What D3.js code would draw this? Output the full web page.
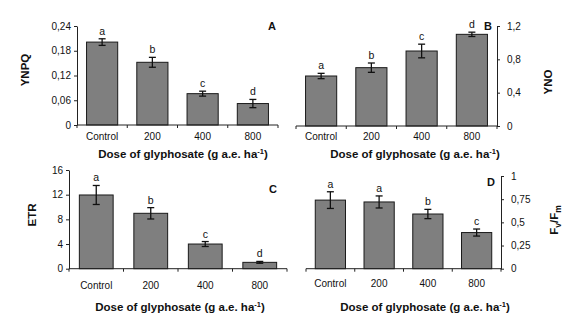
<!DOCTYPE html>
<html lang="en">
<head>
<meta charset="UTF-8">
<script src="https://d3js.org/d3.v7.min.js"></script>
<title>Glyphosate panels</title>
<style>
  body { margin: 0; background: #fff; }
  text { font-family: "Liberation Sans", Arial, sans-serif; fill: #111; }
  .ttl { font-family: "Liberation Sans Narrow", "Arial Narrow", "Liberation Sans", sans-serif; font-weight: bold; font-size: 11.5px; }
  .tick text { font-size: 10px; }
  .tick line, .domain { stroke: #222; }
</style>
</head>
<body>
<svg id="chart" width="570" height="322"></svg>
<script>
// categories
var doses = ["Control", "200", "400", "800"];

// A - YNPQ
var ynpq = [0.201, 0.152, 0.076, 0.052];
var ynpqErr = [0.008, 0.012, 0.006, 0.01];
var ynpqLetters = ["a", "b", "c", "d"];
var ynpqTicks = [0, 0.06, 0.12, 0.18, 0.24];

// B - YNO
var yno = [0.60, 0.70, 0.90, 1.10];
var ynoErr = [0.032, 0.056, 0.082, 0.026];
var ynoLetters = ["a", "b", "c", "d"];
var ynoTicks = [0, 0.4, 0.8, 1.2];

// C - ETR
var etr = [11.95, 8.98, 4.0, 1.03];
var etrErr = [1.54, 0.92, 0.4, 0.15];
var etrLetters = ["a", "b", "c", "d"];
var etrTicks = [0, 4, 8, 12, 16];

// D - Fv/Fm
var fvfm = [0.74, 0.72, 0.59, 0.39];
var fvfmErr = [0.09, 0.065, 0.05, 0.038];
var fvfmLetters = ["a", "a", "b", "c"];
var fvfmTicks = [0, 0.25, 0.5, 0.75, 1];

var svg = d3.select("#chart");
var fmt = function (d) { return String(d).replace(".", ","); };

function panel(o) {
    var x = d3.scaleBand().domain(doses).range([o.x0, o.x1])
        .paddingInner(0.38).paddingOuter(0.19);
    var y = d3.scaleLinear().domain([0, o.max]).range([o.yBot, o.yTop]);
    var g = svg.append("g");
    var rows = doses.map(function (c, i) {
        return { c: c, v: o.vals[i], e: o.errs[i], l: o.letters[i] };
    });

    // bars
    g.selectAll("rect").data(rows).enter().append("rect")
        .attr("x", function (d) { return x(d.c); })
        .attr("y", function (d) { return y(d.v); })
        .attr("width", x.bandwidth())
        .attr("height", function (d) { return y(0) - y(d.v); })
        .attr("fill", "#7f7f7f")
        .attr("stroke", "#1a1a1a")
        .attr("stroke-width", 1);

    // error bars
    var eb = g.selectAll(".eb").data(rows).enter().append("g").attr("class", "eb")
        .attr("stroke", "#111").attr("stroke-width", 1.3);
    eb.append("line")
        .attr("x1", function (d) { return x(d.c) + x.bandwidth() / 2; })
        .attr("x2", function (d) { return x(d.c) + x.bandwidth() / 2; })
        .attr("y1", function (d) { return y(d.v + d.e); })
        .attr("y2", function (d) { return y(d.v - d.e); });
    [1, -1].forEach(function (s) {
        eb.append("line")
            .attr("x1", function (d) { return x(d.c) + x.bandwidth() / 2 - 3.5; })
            .attr("x2", function (d) { return x(d.c) + x.bandwidth() / 2 + 3.5; })
            .attr("y1", function (d) { return y(d.v + s * d.e); })
            .attr("y2", function (d) { return y(d.v + s * d.e); });
    });

    // significance letters
    g.selectAll(".lt").data(rows).enter().append("text")
        .attr("x", function (d) { return x(d.c) + x.bandwidth() / 2; })
        .attr("y", function (d) { return y(d.v + d.e) - 4; })
        .attr("text-anchor", "middle")
        .style("font-size", "10.5px")
        .text(function (d) { return d.l; });

    // y axis
    var ax = (o.right ? d3.axisRight(y) : d3.axisLeft(y))
        .tickValues(o.ticks).tickFormat(fmt).tickSizeInner(3).tickSizeOuter(0)
        .tickPadding(o.right ? 7 : 3);
    g.append("g").attr("transform", "translate(" + (o.right ? o.x1 : o.x0) + ",0)").call(ax);

    // x axis line with ticks at category boundaries
    g.append("line").attr("x1", o.x0).attr("x2", o.x1)
        .attr("y1", y(0)).attr("y2", y(0)).attr("stroke", "#222");
    var bounds = doses.map(function (c) { return x(c) - x.step() * x.paddingInner() / 2; });
    bounds.push(o.x1);
    g.selectAll(".xt").data(bounds).enter().append("line")
        .attr("x1", function (d) { return d; }).attr("x2", function (d) { return d; })
        .attr("y1", y(0)).attr("y2", y(0) + 3).attr("stroke", "#222");
    g.selectAll(".xl").data(doses).enter().append("text")
        .attr("x", function (d) { return x(d) + x.bandwidth() / 2; })
        .attr("y", o.tickY)
        .attr("text-anchor", "middle")
        .style("font-size", "10px")
        .text(function (d) { return d; });

    // x title
    var t = g.append("text").attr("class", "ttl")
        .attr("x", o.titleX).attr("y", o.titleY).attr("text-anchor", "middle");
    t.append("tspan").text("Dose of glyphosate (g a.e. ha");
    t.append("tspan").attr("dy", -4).style("font-size", "7.5px").text("-1");
    t.append("tspan").attr("dy", 4).text(")");

    // y title
    var yt = g.append("text").attr("class", "ttl")
        .attr("transform", "translate(" + o.labX + "," + o.labY + ") rotate(-90)")
        .attr("text-anchor", "middle");
    if (o.label === "Fv/Fm") {
        yt.append("tspan").text("F");
        yt.append("tspan").attr("dy", 3).style("font-size", "8.5px").text("v");
        yt.append("tspan").attr("dy", -3).text("/F");
        yt.append("tspan").attr("dy", 3).style("font-size", "8.5px").text("m");
    } else {
        yt.text(o.label);
    }

    // panel letter
    g.append("text").attr("x", o.letX).attr("y", o.letY)
        .attr("text-anchor", "middle")
        .style("font-weight", "bold").style("font-size", "11px")
        .text(o.tag);
}

panel({ vals: ynpq, errs: ynpqErr, letters: ynpqLetters, ticks: ynpqTicks, max: 0.24,
    x0: 77, x1: 278, yTop: 26, yBot: 125, right: false, tickY: 140,
    titleX: 183, titleY: 158, label: "YNPQ", labX: 29, labY: 70, tag: "A", letX: 272, letY: 30 });
panel({ vals: yno, errs: ynoErr, letters: ynoLetters, ticks: ynoTicks, max: 1.2,
    x0: 296, x1: 497, yTop: 26, yBot: 126, right: true, tickY: 140,
    titleX: 415, titleY: 158, label: "YNO", labX: 552, labY: 82, tag: "B", letX: 488, letY: 30 });
panel({ vals: etr, errs: etrErr, letters: etrLetters, ticks: etrTicks, max: 16,
    x0: 69, x1: 287, yTop: 170, yBot: 268.7, right: false, tickY: 289,
    titleX: 180, titleY: 311, label: "ETR", labX: 36, labY: 215, tag: "C", letX: 273, letY: 193 });
panel({ vals: fvfm, errs: fvfmErr, letters: fvfmLetters, ticks: fvfmTicks, max: 1,
    x0: 306, x1: 501, yTop: 176, yBot: 268.7, right: true, tickY: 287,
    titleX: 425, titleY: 311, label: "Fv/Fm", labX: 558, labY: 220, tag: "D", letX: 491, letY: 186 });
</script>
</body>
</html>
